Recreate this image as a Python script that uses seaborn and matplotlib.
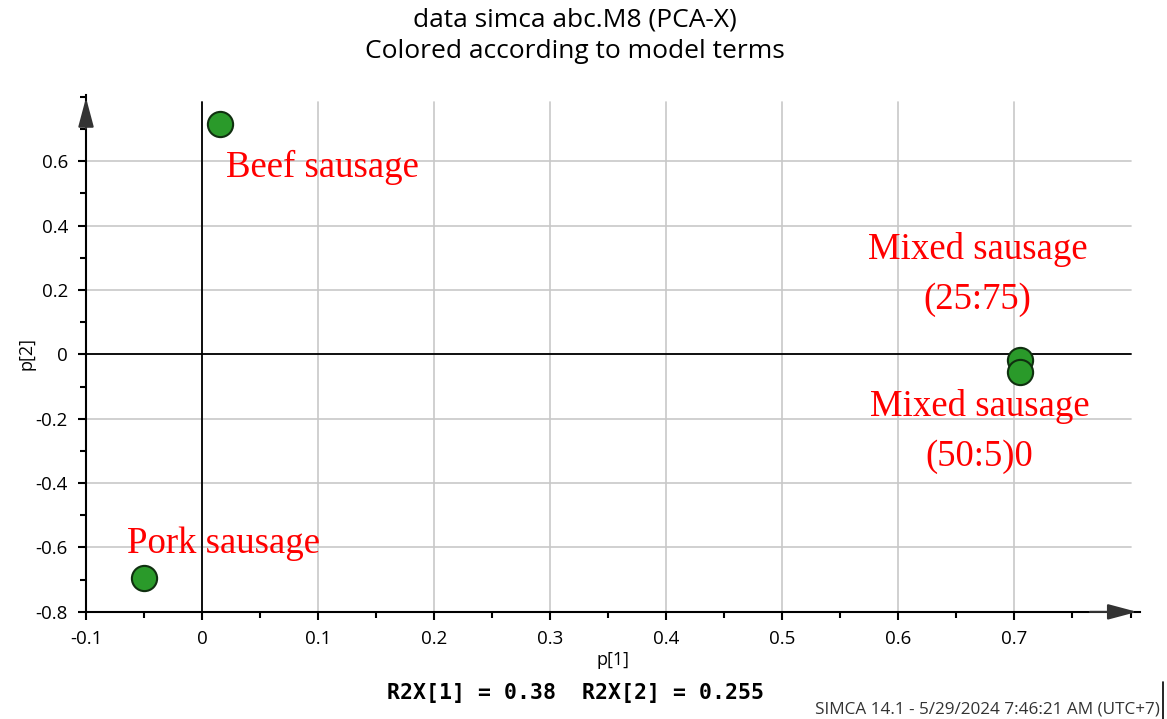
import matplotlib
matplotlib.use("Agg")
import matplotlib.pyplot as plt
import seaborn as sns
import pandas as pd
import numpy as np
from matplotlib.ticker import MultipleLocator

# Data
samples = ["Beef sausage", "Pork sausage", "Mixed sausage (25:75)", "Mixed sausage (50:50)"]
p1 = [0.0155, -0.050, 0.705, 0.705]
p2 = [0.716, -0.695, -0.016, -0.056]
x_ticks = [-0.1, 0, 0.1, 0.2, 0.3, 0.4, 0.5, 0.6, 0.7]
x_tick_labels = ["-0.1", "0", "0.1", "0.2", "0.3", "0.4", "0.5", "0.6", "0.7"]
y_ticks = [-0.8, -0.6, -0.4, -0.2, 0, 0.2, 0.4, 0.6]
y_tick_labels = ["-0.8", "-0.6", "-0.4", "-0.2", "0", "0.2", "0.4", "0.6"]
labels_text = ["Beef sausage", "Mixed sausage", "(25:75)", "Mixed sausage", "(50:5)0", "Pork sausage"]
labels_x = [0.021, 0.668, 0.668, 0.670, 0.670, -0.0645]
labels_y = [0.58, 0.326, 0.171, -0.161, -0.319, -0.589]
labels_ha = ["left", "center", "center", "center", "center", "left"]

df = pd.DataFrame({"p1": p1, "p2": p2, "sample": samples})

sns.set_theme(style="white")
plt.rcParams['font.family'] = ['Open Sans', 'DejaVu Sans']
plt.rcParams['text.color'] = 'black'
plt.rcParams['axes.labelcolor'] = 'black'

fig = plt.figure(figsize=(11.67, 7.19), dpi=100)
ax = fig.add_axes([0.0737, 0.149, 0.903, 0.719])

XMIN, XMAX = -0.1, 0.808
YMIN, YMAX = -0.8, 0.806
ax.set_xlim(XMIN, XMAX)
ax.set_ylim(YMIN, YMAX)

# grid
for xv in x_ticks[1:]:
    ax.plot([xv, xv], [YMIN, 0.785], color="#c8c8c8", lw=1.2, zorder=0)
for yv in y_ticks[1:]:
    ax.plot([XMIN, 0.8], [yv, yv], color="#c8c8c8", lw=1.2, zorder=0)

# zero lines
ax.plot([0, 0], [YMIN, 0.785], color="black", lw=1.3, zorder=1)
ax.plot([XMIN, 0.8], [0, 0], color="black", lw=1.3, zorder=1)

sns.scatterplot(data=df, x="p1", y="p2", ax=ax, s=330, color="#2a9a2a",
                edgecolor="#103010", linewidth=1.5, zorder=5, legend=False)

for t, x, y, ha in zip(labels_text, labels_x, labels_y, labels_ha):
    ax.text(x, y, t, color="red", fontsize=26.5, family="Liberation Serif",
            ha=ha, va="center", zorder=6)

for s in ["top", "right"]:
    ax.spines[s].set_visible(False)
for s in ["left", "bottom"]:
    ax.spines[s].set_color("black")
    ax.spines[s].set_linewidth(1.5)

# arrows
ax.annotate("", xy=(1.0, 0), xycoords="axes fraction", xytext=(0.95, 0),
            arrowprops=dict(arrowstyle="-|>,head_length=1.5,head_width=0.4",
                            color="#333333", lw=1.5), annotation_clip=False)
ax.annotate("", xy=(0, 1.0), xycoords="axes fraction", xytext=(0, 0.93),
            arrowprops=dict(arrowstyle="-|>,head_length=1.5,head_width=0.4",
                            color="#333333", lw=1.5), annotation_clip=False)

ax.set_xticks(x_ticks)
ax.set_xticklabels(x_tick_labels)
ax.set_yticks(y_ticks)
ax.set_yticklabels(y_tick_labels)
ax.xaxis.set_minor_locator(MultipleLocator(0.05))
ax.yaxis.set_minor_locator(MultipleLocator(0.1))
ax.tick_params(axis="both", which="major", direction="out", length=6, width=1.5,
               color="black", labelsize=13.5, labelcolor="black", pad=7,
               bottom=True, left=True)
ax.tick_params(axis="both", which="minor", direction="out", length=4, width=1.5,
               color="black", bottom=True, left=True)

ax.set_xlabel("p[1]", fontsize=13, labelpad=2, color="black")
ax.set_ylabel("p[2]", fontsize=13, labelpad=0, color="black")

fig.text(0.493, 0.972, "data simca abc.M8 (PCA-X)", ha="center", va="center",
         fontsize=19, color="black")
fig.text(0.493, 0.928, "Colored according to model terms", ha="center", va="center",
         fontsize=19, color="black")
fig.text(0.493, 0.036, "R2X[1] = 0.38  R2X[2] = 0.255", ha="center", va="center",
         fontsize=15.5, family="DejaVu Sans Mono", weight="bold", color="black")
fig.text(0.846, 0.013, "SIMCA 14.1 - 5/29/2024 7:46:21 AM (UTC+7)", ha="center",
         va="center", fontsize=12.3, color="#333333")
fig.add_artist(plt.Line2D([0.9965, 0.9965], [0.0, 0.052], color="black", lw=1.2,
                          transform=fig.transFigure))

fig.savefig("out.png", dpi=100)
